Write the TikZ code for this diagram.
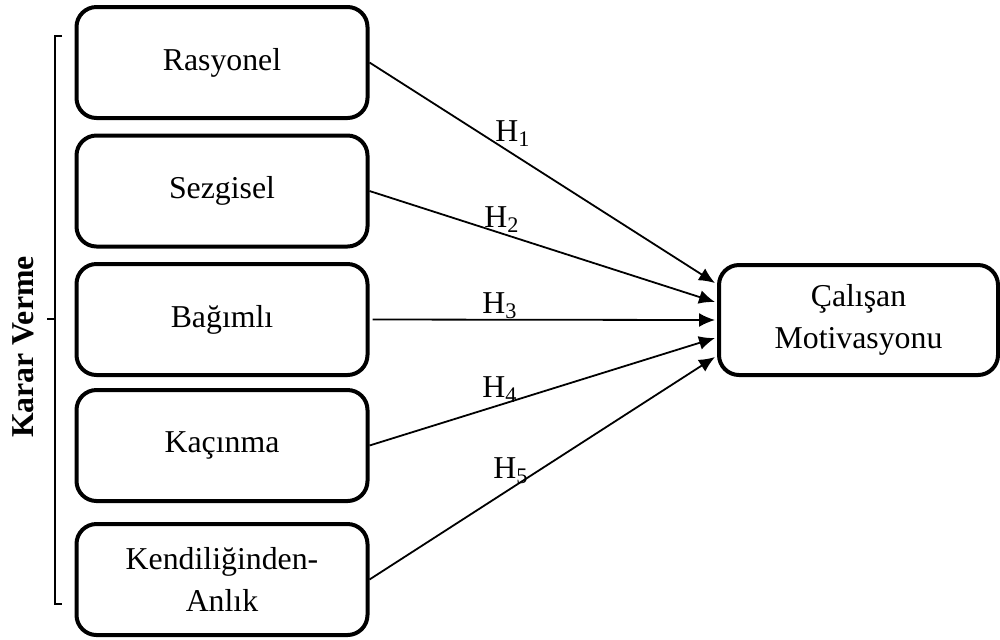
\documentclass[tikz,border=0pt]{standalone}
\usepackage{fontspec}
\setmainfont{Liberation Serif}
\usetikzlibrary{arrows.meta,calc}
\begin{document}
\begin{tikzpicture}[x=0.5pt,y=-0.5pt,
  every node/.style={font=\fontsize{15.9}{21}\selectfont},
  box/.style={draw,line width=2pt,rounded corners=10pt,align=center,inner sep=0pt},
  lbox/.style={box,minimum width=145.5pt,minimum height=55.5pt},
  conn/.style={line width=0.9pt,-{Latex[length=8pt,width=7pt]}},
  hlab/.style={anchor=base west,inner sep=0pt}]
\useasboundingbox (0,0) rectangle (1000,639);
\node[lbox] (b1) at (222,62.5) {Rasyonel};
\node[lbox] (b2) at (222,191) {Sezgisel};
\node[lbox] (b3) at (222,319.5) {Bağımlı};
\node[lbox] (b4) at (222,445.5) {Kaçınma};
\node[lbox] (b5) at (222,579.5) {Kendiliğinden-\\Anlık};
\node[box,minimum width=139.5pt,minimum height=55pt] (m) at (858.5,320) {Çalışan\\Motivasyonu};
\coordinate (t1) at ($(m.west)+(-2,-37)$);
\coordinate (t2) at ($(m.west)+(-2,-18)$);
\coordinate (t3) at ($(m.west)+(-2,0)$);
\coordinate (t4) at ($(m.west)+(-2,18)$);
\coordinate (t5) at ($(m.west)+(-2,37)$);
\draw[conn] (b1.east) -- (t1);
\draw[conn] (b2.east) -- (t2);
\draw[conn] ($(b3.east)+(3,0)$) -- (t3);
\draw[conn] (b4.east) -- (t4);
\draw[conn] (b5.east) -- (t5);
\node[hlab] (h1) at (495,141) {H\textsubscript{1}};
\node[hlab] (h2) at (484,227) {H\textsubscript{2}};
\node[hlab] (h3) at (482,313) {H\textsubscript{3}};
\node[hlab] (h4) at (482,397) {H\textsubscript{4}};
\node[hlab] (h5) at (493,478) {H\textsubscript{5}};
\coordinate (bt) at (62,36);
\coordinate (bb) at (62,604);
\coordinate (bm) at (47,319);
\draw[line width=0.6pt] (bt) -- (55,36) -- (55,604) -- (bb);
\draw[line width=0.6pt] (55,319) -- (bm);
\node[rotate=90,anchor=base,font=\fontsize{15.9}{21}\selectfont\bfseries] (kv) at (33,347) {Karar Verme};
\end{tikzpicture}
\end{document}
